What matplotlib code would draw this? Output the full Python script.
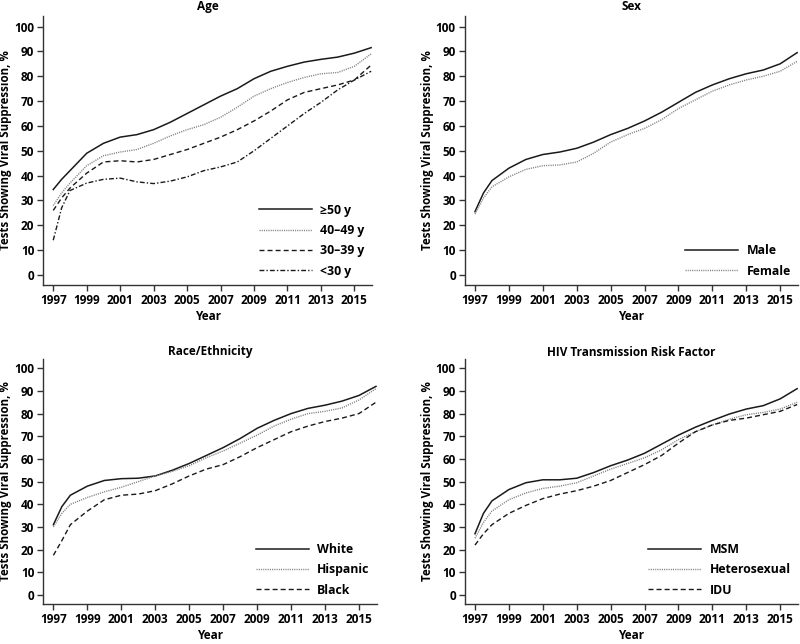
import matplotlib
matplotlib.use('Agg')
import matplotlib.pyplot as plt

plt.rcParams['font.family'] = ['Open Sans', 'DejaVu Sans']

years = [1997, 1997.5, 1998, 1999, 2000, 2001, 2002, 2003, 2004, 2005, 2006,
         2007, 2008, 2009, 2010, 2011, 2012, 2013, 2014, 2015, 2016]

# Age
age_50 = [34.4, 38.5, 42, 49, 53, 55.5, 56.5, 58.5, 61.5, 65, 68.5, 72, 75, 79, 82, 84, 85.7, 86.8, 87.7, 89.3, 91.5]
age_40 = [28, 33, 37, 44, 48, 49.5, 50.5, 53, 56, 58.5, 60.5, 63.5, 67.5, 72, 75, 77.5, 79.5, 81, 81.5, 84, 89]
age_30 = [26, 31, 35, 41, 45.5, 46, 45.5, 46.5, 48.5, 50.5, 53, 55.5, 58.5, 62, 66, 70.5, 73.5, 75, 76.5, 78.5, 84.5]
age_u30 = [14, 27, 34, 37, 38.5, 39, 37.5, 36.8, 37.8, 39.5, 42, 43.5, 45.5, 50, 55, 60, 65, 69.5, 74.5, 78.5, 82]

# Sex
male = [25.5, 33, 38, 43, 46.5, 48.5, 49.5, 51, 53.5, 56.5, 59, 62, 65.5, 69.5, 73.5, 76.5, 79, 81, 82.5, 85, 89.5]
female = [24.5, 31, 35.5, 39.5, 42.5, 44, 44.3, 45.5, 49, 53.5, 56.5, 59, 62.5, 67, 70.5, 74, 76.5, 78.5, 80, 82, 86]

# Race/Ethnicity
white = [31, 39, 44, 48, 50.5, 51.3, 51.5, 52.5, 55, 58, 61.5, 65, 69, 73.5, 77, 80, 82.3, 83.7, 85.5, 88, 92]
hispanic = [30, 36, 40, 43, 45.5, 47.5, 50, 52.5, 54.5, 57, 60.5, 63.5, 67, 70.5, 74.5, 77.5, 80, 81, 82.5, 86, 91]
black = [17.5, 24, 31, 37, 42, 44, 44.5, 46, 49, 52.5, 55.5, 57.5, 61, 65, 68.5, 72, 74.5, 76.5, 78, 80, 85]

# HIV transmission risk factor
msm = [27, 36, 41.5, 46.5, 49.5, 50.8, 50.8, 51.5, 54, 57, 59.5, 62.5, 66.5, 70.5, 74, 77, 79.8, 82, 83.5, 86.5, 91]
hetero = [25, 32, 37, 42, 45, 47, 48, 49.5, 52.5, 55.5, 58, 60.5, 64, 68.5, 72, 75, 77.5, 79.5, 80.5, 82, 85]
idu = [22, 27, 31, 36, 39.5, 42.5, 44.5, 46, 48, 50.5, 54, 57.5, 61.5, 67, 72, 75, 77, 78, 79.5, 81, 84]

xticks = list(range(1997, 2016, 2))
yticks = list(range(0, 101, 10))

SOLID = dict(color='#1a1a1a', lw=1.1, ls='-')
DOT = dict(color='#808080', lw=1.0, ls=(0, (0.8, 0.8)))
DASH = dict(color='#1a1a1a', lw=1.0, ls=(0, (3.6, 2.2)))
DASHDOT = dict(color='#1a1a1a', lw=1.0, ls=(0, (3.5, 1.5, 1, 1.5)))

# title, axes rect, title pad
panels = [
    ('Age', [0.054, 0.5575, 0.411, 0.4175], 4.5,
     [(age_50, '≥50 y', SOLID), (age_40, '40–49 y', DOT), (age_30, '30–39 y', DASH), (age_u30, '<30 y', DASHDOT)]),
    ('Sex', [0.581, 0.5575, 0.4165, 0.4175], 4.5,
     [(male, 'Male', SOLID), (female, 'Female', DOT)]),
    ('Race/Ethnicity', [0.054, 0.062, 0.417, 0.381], 2.5,
     [(white, 'White', SOLID), (hispanic, 'Hispanic', DOT), (black, 'Black', DASH)]),
    ('HIV Transmission Risk Factor', [0.581, 0.062, 0.4165, 0.381], 0,
     [(msm, 'MSM', SOLID), (hetero, 'Heterosexual', DOT), (idu, 'IDU', DASH)]),
]

fig = plt.figure(figsize=(8, 6.44), dpi=100)
for title, rect, tpad, series in panels:
    ax = fig.add_axes(rect)
    for vals, label, style in series:
        ax.plot(years, vals, label=label, **style)
    ax.set_xlim(1996.4, 2016.05)
    ax.set_ylim(-4, 104.2)
    ax.set_xticks(xticks)
    ax.set_yticks(yticks)
    ax.spines['top'].set_visible(False)
    ax.spines['right'].set_visible(False)
    for s in ('left', 'bottom'):
        ax.spines[s].set_color('#333333')
        ax.spines[s].set_linewidth(1.0)
    ax.tick_params(direction='out', length=4, width=1, color='#333333',
                   labelsize=8.5, pad=2.5)
    for lab in ax.get_xticklabels() + ax.get_yticklabels():
        lab.set_fontweight('bold')
    ax.set_title(title, fontsize=8.5, fontweight='bold', pad=tpad)
    ax.set_xlabel('Year', fontsize=8.5, fontweight='bold', labelpad=2)
    ax.set_ylabel('Tests Showing Viral Suppression, %', fontsize=8.3,
                  fontweight='bold', labelpad=1.5)
    ax.legend(loc='lower right', frameon=False, handlelength=4.3,
              handletextpad=0.7, labelspacing=0.6,
              prop=dict(weight='bold', size=8.8), borderaxespad=0.2,
              bbox_to_anchor=(1.0, 0.0))

fig.savefig('out.png', dpi=100)
